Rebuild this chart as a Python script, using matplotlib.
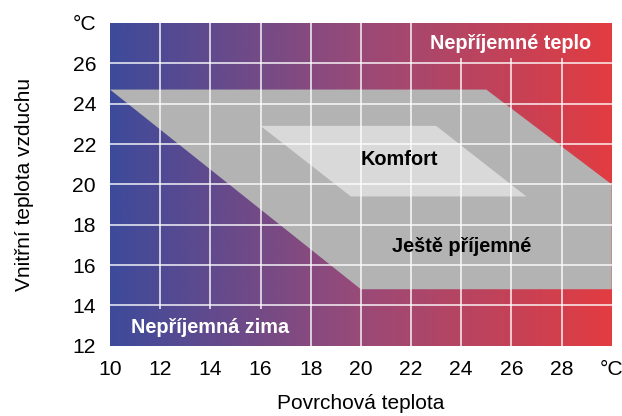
import numpy as np
import matplotlib
matplotlib.use("Agg")
import matplotlib.pyplot as plt
from matplotlib.colors import LinearSegmentedColormap
from matplotlib.patches import Polygon

plt.rcParams['font.family'] = ['Liberation Sans', 'DejaVu Sans']

# Data
x_ticks = [10, 12, 14, 16, 18, 20, 22, 24, 26, 28, 30]
x_tick_labels = ['10', '12', '14', '16', '18', '20', '22', '24', '26', '28', '°C']
y_ticks = [12, 14, 16, 18, 20, 22, 24, 26, 28]
y_tick_labels = ['12', '14', '16', '18', '20', '22', '24', '26', '°C']

# "Ještě příjemné" zone outline (surface temp, air temp)
ok_x = [10, 25, 30, 30, 20]
ok_y = [24.7, 24.7, 20.0, 14.8, 14.8]
# "Komfort" zone outline
comfort_x = [16, 23, 26.6, 19.6]
comfort_y = [22.9, 22.9, 19.4, 19.4]

labels = {
    'Komfort': (21.55, 21.25),
    'Ještě příjemné': (24.0, 16.9),
    'Nepříjemné teplo': (25.95, 27.0),
    'Nepříjemná zima': (14.0, 12.9),
}

xmin, xmax, ymin, ymax = 10, 30, 12, 28

cmap = LinearSegmentedColormap.from_list(
    'warmcold', [(0.0, '#3d4a9b'), (0.5, '#994a78'), (1.0, '#e23c41')])

fig = plt.figure(figsize=(6.22, 4.16), dpi=100)
ax = fig.add_axes([110/622, 1-345.7/416, (611.7-110)/622, (345.7-23)/416])

def gradient(x0, x1, y0, y1, z):
    xs = np.linspace(x0, x1, 400).reshape(1, -1)
    ax.imshow(xs, extent=[x0, x1, y0, y1], aspect='auto', cmap=cmap,
              vmin=xmin, vmax=xmax, zorder=z, interpolation='bilinear')

gradient(xmin, xmax, ymin, ymax, 0)

ax.add_patch(Polygon(np.column_stack([ok_x, ok_y]), closed=True,
                     facecolor='#b3b3b3', edgecolor='none', zorder=1))
ax.add_patch(Polygon(np.column_stack([comfort_x, comfort_y]), closed=True,
                     facecolor='#d9d9d9', edgecolor='none', zorder=1.5))

for xv in x_ticks[1:-1]:
    ax.axvline(xv, color='white', lw=1.2, alpha=0.85, zorder=2)
for yv in y_ticks[1:-1]:
    ax.axhline(yv, color='white', lw=1.2, alpha=0.85, zorder=2)

# boxes behind the outer labels hide the grid
gradient(22.6, 30, 26.25, 28, 3)
gradient(10, 17.5, 12, 13.82, 3)

fs_in = 14.3
ax.text(*labels['Komfort'], 'Komfort', ha='center', va='center',
        fontsize=fs_in, fontweight='bold', color='black', zorder=5)
ax.text(*labels['Ještě příjemné'], 'Ještě příjemné', ha='center', va='center',
        fontsize=fs_in, fontweight='bold', color='black', zorder=5)
ax.text(*labels['Nepříjemné teplo'], 'Nepříjemné teplo', ha='center', va='center',
        fontsize=fs_in, fontweight='bold', color='white', zorder=5)
ax.text(*labels['Nepříjemná zima'], 'Nepříjemná zima', ha='center', va='center',
        fontsize=fs_in, fontweight='bold', color='white', zorder=5)

ax.set_xlim(xmin, xmax)
ax.set_ylim(ymin, ymax)
ax.set_xticks(x_ticks)
ax.set_xticklabels(x_tick_labels)
ax.set_yticks(y_ticks)
ax.set_yticklabels(y_tick_labels)
ax.tick_params(length=0, labelsize=15.2, pad=10)
for s in ax.spines.values():
    s.set_visible(False)

ax.set_xlabel('Povrchová teplota', fontsize=15, labelpad=11)
ax.set_ylabel('Vnitřní teplota vzduchu', fontsize=15, labelpad=28)

fig.savefig('out.png', dpi=100)
